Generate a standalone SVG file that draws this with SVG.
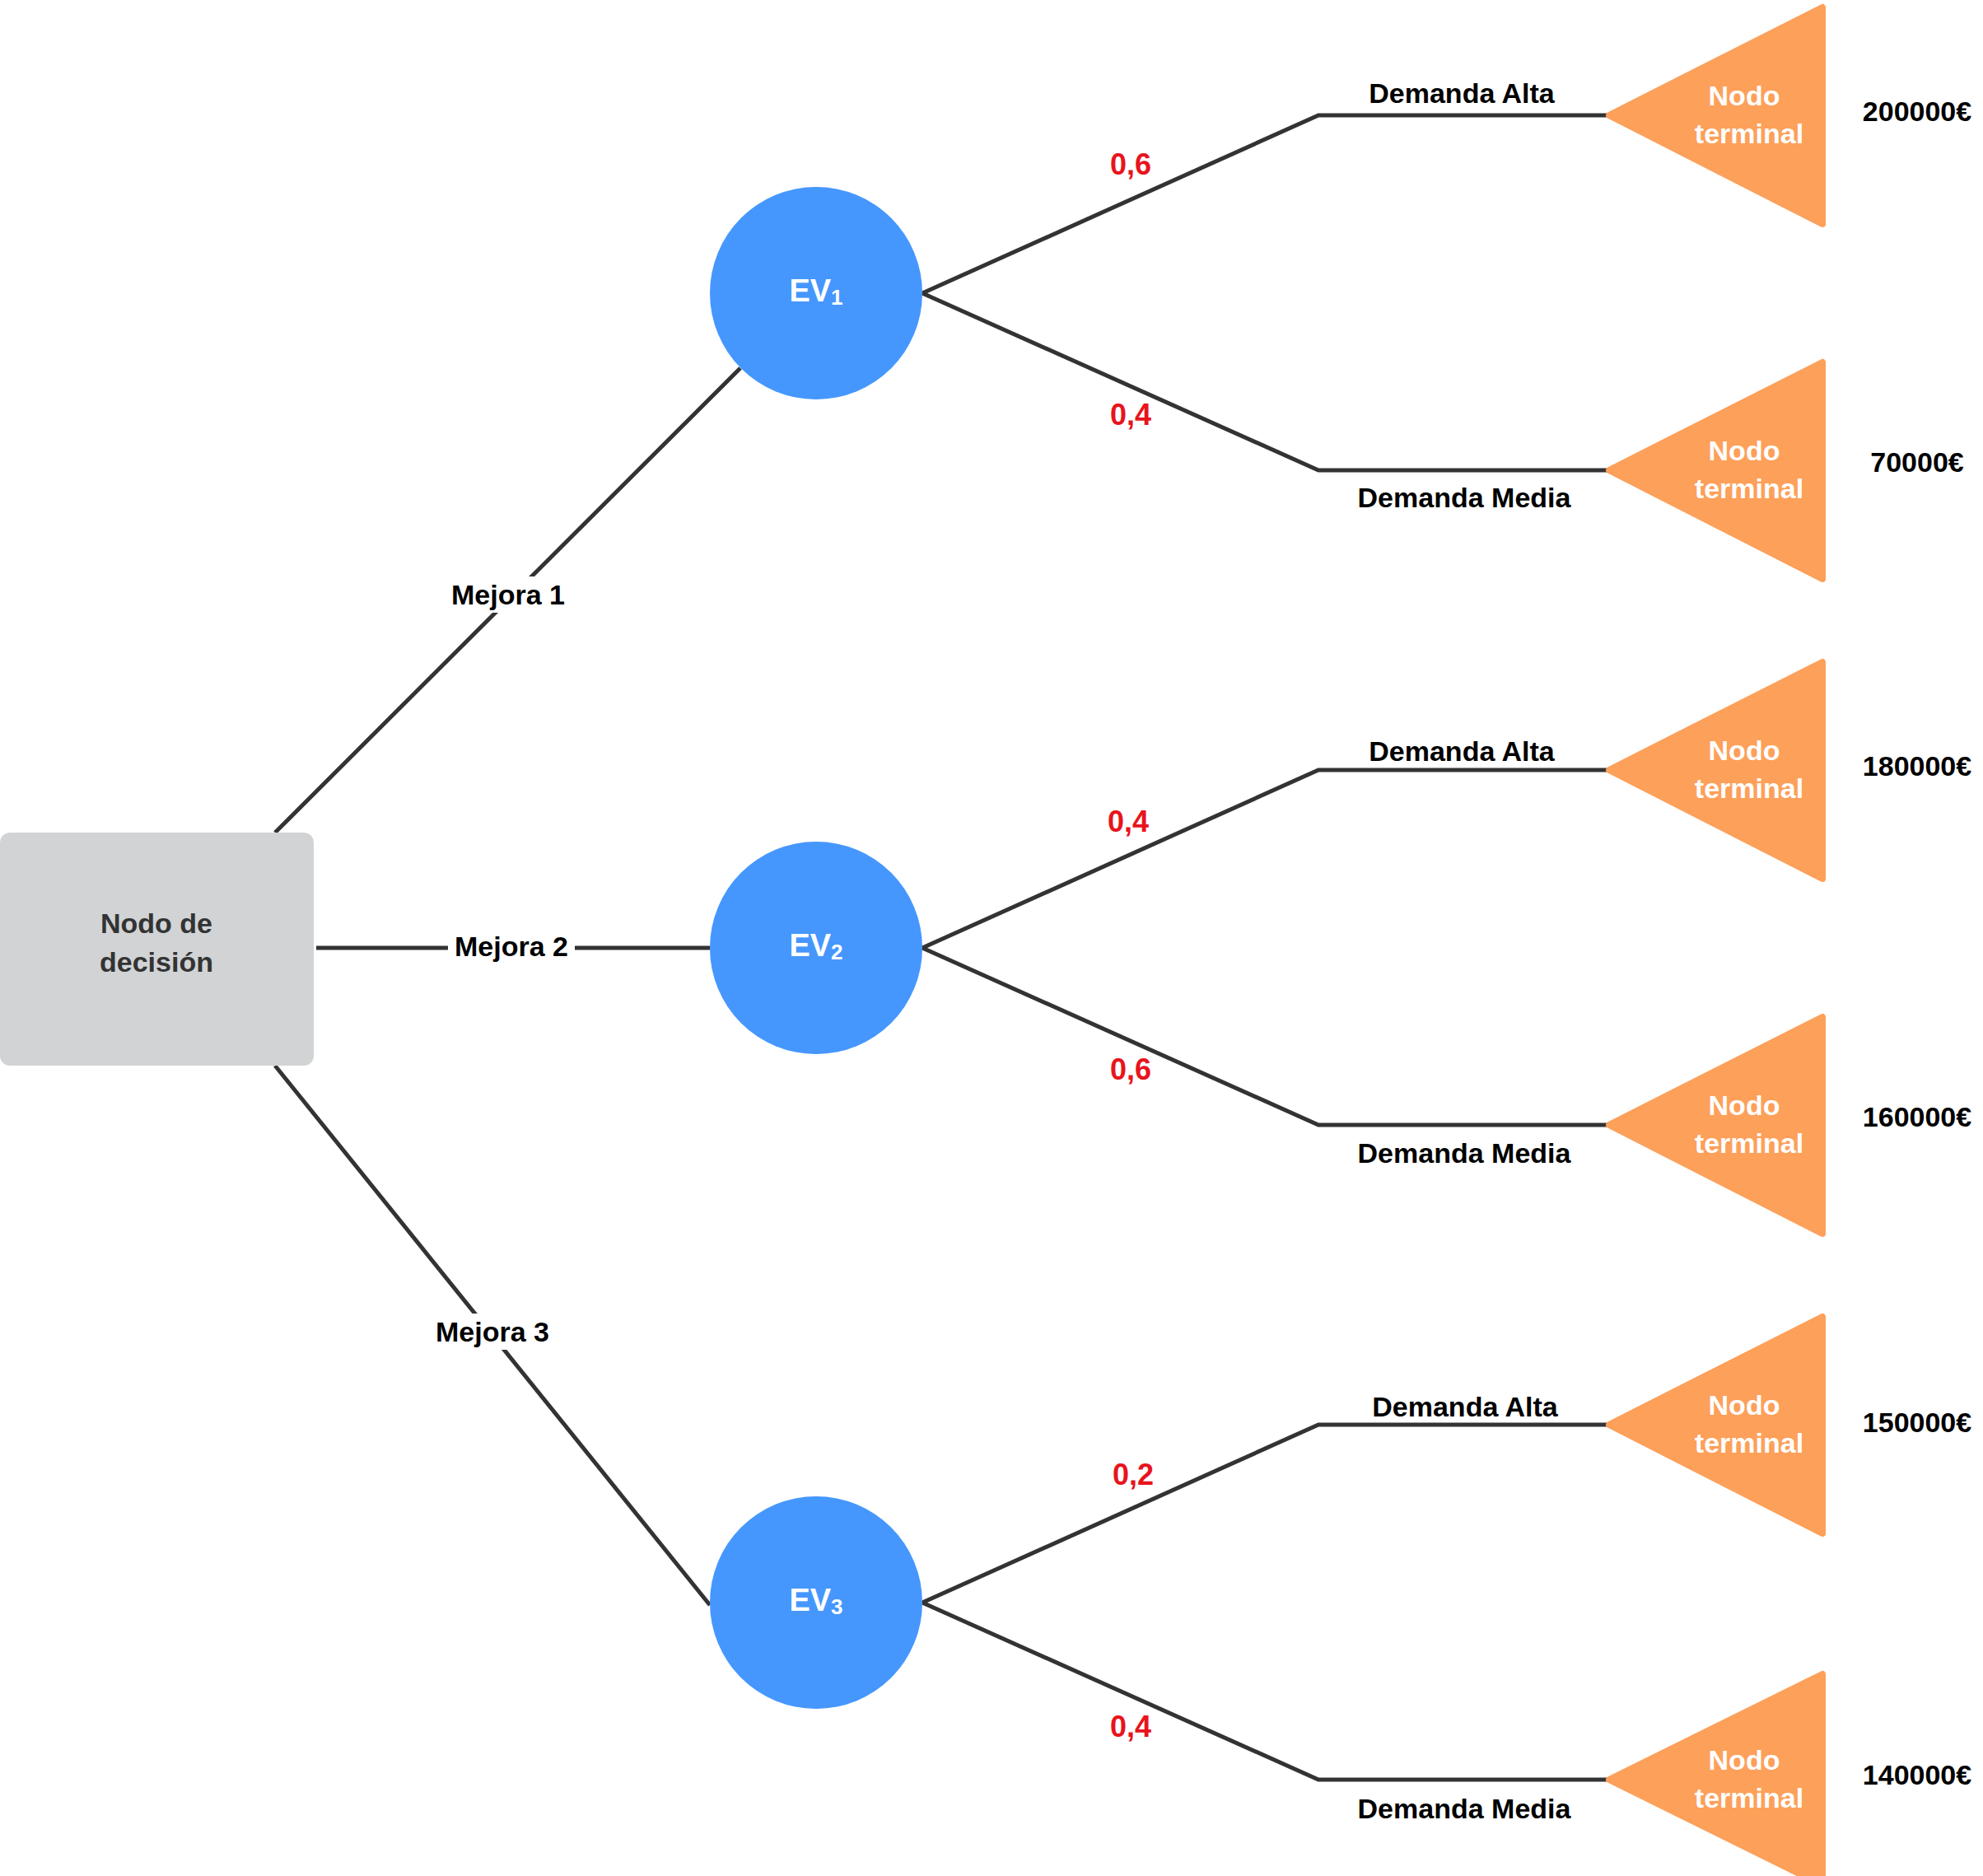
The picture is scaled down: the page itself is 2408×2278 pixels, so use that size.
<svg xmlns="http://www.w3.org/2000/svg" width="2408" height="2278" viewBox="0 0 2408 2278">
<style>
text{font-family:"Liberation Sans",Arial,sans-serif;font-weight:bold;text-anchor:middle;dominant-baseline:central}
.ln{stroke:#333;stroke-width:5;fill:none}
.lbl{font-size:34px;fill:#000}
.pr{font-size:36px;fill:#e8141c}
.tri{fill:#fda05a;stroke:#fda05a;stroke-width:8;stroke-linejoin:round}
.tt{font-size:34px;fill:#fff}
.ev{fill:#4597fe}
.evt{font-size:38px;fill:#fff}
.val{font-size:34px;fill:#000}
</style>
<rect width="2408" height="2278" fill="#fff"/>
<g id="connectors">
<path class="ln" d="M334,1011L899,447"/>
<path class="ln" d="M384,1151H862"/>
<path class="ln" d="M334,1294L862,1949"/>
<path class="ln" d="M1120,356L1601,140H1952M1120,356L1601,571H1952"/>
<path class="ln" d="M1120,1151L1601,935H1952M1120,1151L1601,1366H1952"/>
<path class="ln" d="M1120,1946L1601,1730H1952M1120,1946L1601,2161H1952"/>
<rect x="537" y="700" width="160" height="44" fill="#fff"/>
<text class="lbl" x="617" y="722">Mejora 1</text>
<rect x="544" y="1128" width="154" height="44" fill="#fff"/>
<text class="lbl" x="621" y="1149">Mejora 2</text>
<rect x="518" y="1595" width="160" height="44" fill="#fff"/>
<text class="lbl" x="598" y="1617">Mejora 3</text>
<text class="pr" x="1373" y="199">0,6</text>
<text class="pr" x="1373" y="503">0,4</text>
<text class="pr" x="1370" y="997">0,4</text>
<text class="pr" x="1373" y="1298">0,6</text>
<text class="pr" x="1376" y="1790">0,2</text>
<text class="pr" x="1373" y="2096">0,4</text>
<text class="lbl" x="1775" y="113">Demanda Alta</text>
<text class="lbl" x="1778" y="604">Demanda Media</text>
<text class="lbl" x="1775" y="912">Demanda Alta</text>
<text class="lbl" x="1778" y="1400">Demanda Media</text>
<text class="lbl" x="1779" y="1708">Demanda Alta</text>
<text class="lbl" x="1778" y="2196">Demanda Media</text>
</g>
<g id="decision">
<rect x="0" y="1011" width="381" height="283" rx="12" fill="#d1d3d5"/>
<text x="190" y="1121" font-size="34" fill="#333">Nodo de</text>
<text x="190" y="1168" font-size="34" fill="#333">decisión</text>
</g>
<g id="ev1"><circle class="ev" cx="991" cy="356" r="129"/><text class="evt" x="991" y="353">EV<tspan font-size="26" dy="8">1</tspan></text></g>
<g id="ev2"><circle class="ev" cx="991" cy="1151" r="129"/><text class="evt" x="991" y="1148">EV<tspan font-size="26" dy="8">2</tspan></text></g>
<g id="ev3"><circle class="ev" cx="991" cy="1946" r="129"/><text class="evt" x="991" y="1943">EV<tspan font-size="26" dy="8">3</tspan></text></g>
<g id="t1"><polygon class="tri" points="1954,140 2213,9 2213,272"/><text class="tt" x="2118" y="116">Nodo</text><text class="tt" x="2124" y="162">terminal</text><text class="val" x="2328" y="135">200000€</text></g>
<g id="t2"><polygon class="tri" points="1954,571 2213,440 2213,703"/><text class="tt" x="2118" y="547">Nodo</text><text class="tt" x="2124" y="593">terminal</text><text class="val" x="2328" y="561">70000€</text></g>
<g id="t3"><polygon class="tri" points="1954,935 2213,804 2213,1067"/><text class="tt" x="2118" y="911">Nodo</text><text class="tt" x="2124" y="957">terminal</text><text class="val" x="2328" y="930">180000€</text></g>
<g id="t4"><polygon class="tri" points="1954,1366 2213,1235 2213,1498"/><text class="tt" x="2118" y="1342">Nodo</text><text class="tt" x="2124" y="1388">terminal</text><text class="val" x="2328" y="1356">160000€</text></g>
<g id="t5"><polygon class="tri" points="1954,1730 2213,1599 2213,1862"/><text class="tt" x="2118" y="1706">Nodo</text><text class="tt" x="2124" y="1752">terminal</text><text class="val" x="2328" y="1727">150000€</text></g>
<g id="t6"><polygon class="tri" points="1954,2161 2213,2033 2213,2289"/><text class="tt" x="2118" y="2137">Nodo</text><text class="tt" x="2124" y="2183">terminal</text><text class="val" x="2328" y="2155">140000€</text></g>
</svg>
